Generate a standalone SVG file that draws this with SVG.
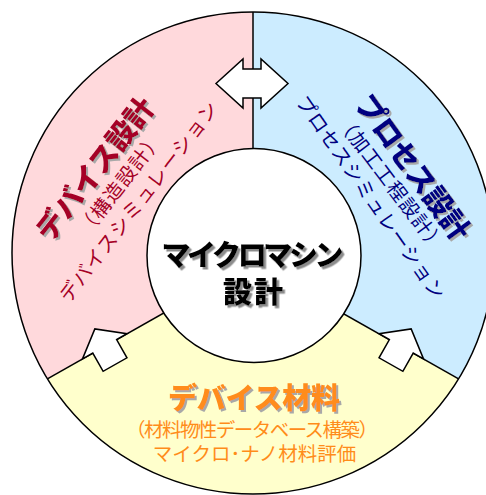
<svg xmlns="http://www.w3.org/2000/svg" width="486" height="495" viewBox="0 0 486 495">
  <defs>
    <filter id="sh" x="-20%" y="-20%" width="140%" height="140%">
      <feDropShadow dx="2" dy="2" stdDeviation="0.3" flood-color="#a8a8a8" flood-opacity="1"/>
    </filter>
    <filter id="shk" x="-20%" y="-20%" width="140%" height="140%">
      <feDropShadow dx="2.5" dy="2.5" stdDeviation="0.3" flood-color="#8c8c8c" flood-opacity="1"/>
    </filter>
  </defs>
  <style>
    text { font-family: "Noto Sans CJK JP", "Noto Sans", sans-serif; text-anchor: middle; dominant-baseline: central; }
    .title { font-size: 29px; font-weight: 900; }
    .sub { font-size: 19.5px; }
    .red { fill: #a50026; }
    .navy { fill: #000080; }
    .orange { fill: #ff8c1a; }
    .ln { stroke: #000; stroke-width: 1.5; fill: none; }
    .arrow { fill: #fff; stroke: #000; stroke-width: 1.5; stroke-linejoin: miter; }
  </style>

  <g id="device-design">
    <path d="M253,262.5 L253,12 A241,241 0 0 0 47.4,378.8 Z" fill="#ffd9dc"/>
  </g>
  <g id="process-design">
    <path d="M253,262.5 L253,12 A241,241 0 0 1 458.6,378.8 Z" fill="#ccecff"/>
  </g>
  <g id="device-material">
    <path d="M253,262.5 L47.4,378.8 A241,241 0 0 0 458.6,378.8 Z" fill="#ffffcc"/>
  </g>

  <g id="connectors">
    <circle class="ln" cx="253" cy="253" r="241"/>
    <line class="ln" x1="253" y1="262.5" x2="253" y2="12"/>
    <line class="ln" x1="253" y1="262.5" x2="47.4" y2="378.8"/>
    <line class="ln" x1="253" y1="262.5" x2="458.6" y2="378.8"/>
  </g>

  <g id="center">
    <circle cx="254" cy="255.5" r="107" fill="#fff" stroke="#000" stroke-width="1.5"/>
    <g filter="url(#shk)">
      <text class="title" x="252.5" y="252.5" font-size="28" textLength="182" lengthAdjust="spacing" fill="#000">マイクロマシン</text>
      <text class="title" x="253" y="290" font-size="30" textLength="60" lengthAdjust="spacing" fill="#000">設計</text>
    </g>
  </g>

  <g id="arrows">
    <polygon class="arrow" points="216,83.5 243,59 243,69 261,69 261,59 288,83.5 261,108 261,98 243,98 243,108"/>
    <polygon class="arrow" points="94.85,328.89 82.5,358.86 92.78,353.05 103.12,371.33 126.96,357.83 116.62,339.55 126.9,333.74"/>
    <polygon class="arrow" points="411.15,328.89 423.5,358.86 413.22,353.05 402.88,371.33 379.04,357.83 389.38,339.55 379.1,333.74"/>
  </g>

  <g id="device-design-text">
    <g filter="url(#sh)">
      <text class="title red" transform="translate(93,167.5) rotate(-52)" textLength="172" lengthAdjust="spacing">デバイス設計</text>
    </g>
    <text class="sub red" transform="translate(119,183) rotate(-52)" textLength="123" lengthAdjust="spacing">（構造設計）</text>
    <text class="sub red" transform="translate(137.5,201) rotate(-52.5)" textLength="246" lengthAdjust="spacing">デバイスシミュレーション</text>
  </g>

  <g id="process-design-text">
    <g filter="url(#sh)">
      <text class="title navy" transform="translate(415,166) rotate(54)" textLength="172" lengthAdjust="spacing">プロセス設計</text>
    </g>
    <text class="sub navy" transform="translate(392,182.5) rotate(53)" textLength="164" lengthAdjust="spacing">（加工工程設計）</text>
    <text class="sub navy" transform="translate(372,196.5) rotate(55)" textLength="243" lengthAdjust="spacing">プロセスシミュレーション</text>
  </g>

  <g id="device-material-text">
    <g filter="url(#sh)">
      <text class="title orange" x="254" y="396" textLength="172" lengthAdjust="spacing">デバイス材料</text>
    </g>
    <text class="sub orange" x="252" y="428" font-size="18" textLength="252" lengthAdjust="spacing">（材料物性データベース構築）</text>
    <text class="sub orange" x="254.5" y="452.5" font-size="21.4">マイクロ･ナノ材料評価</text>
  </g>
</svg>
